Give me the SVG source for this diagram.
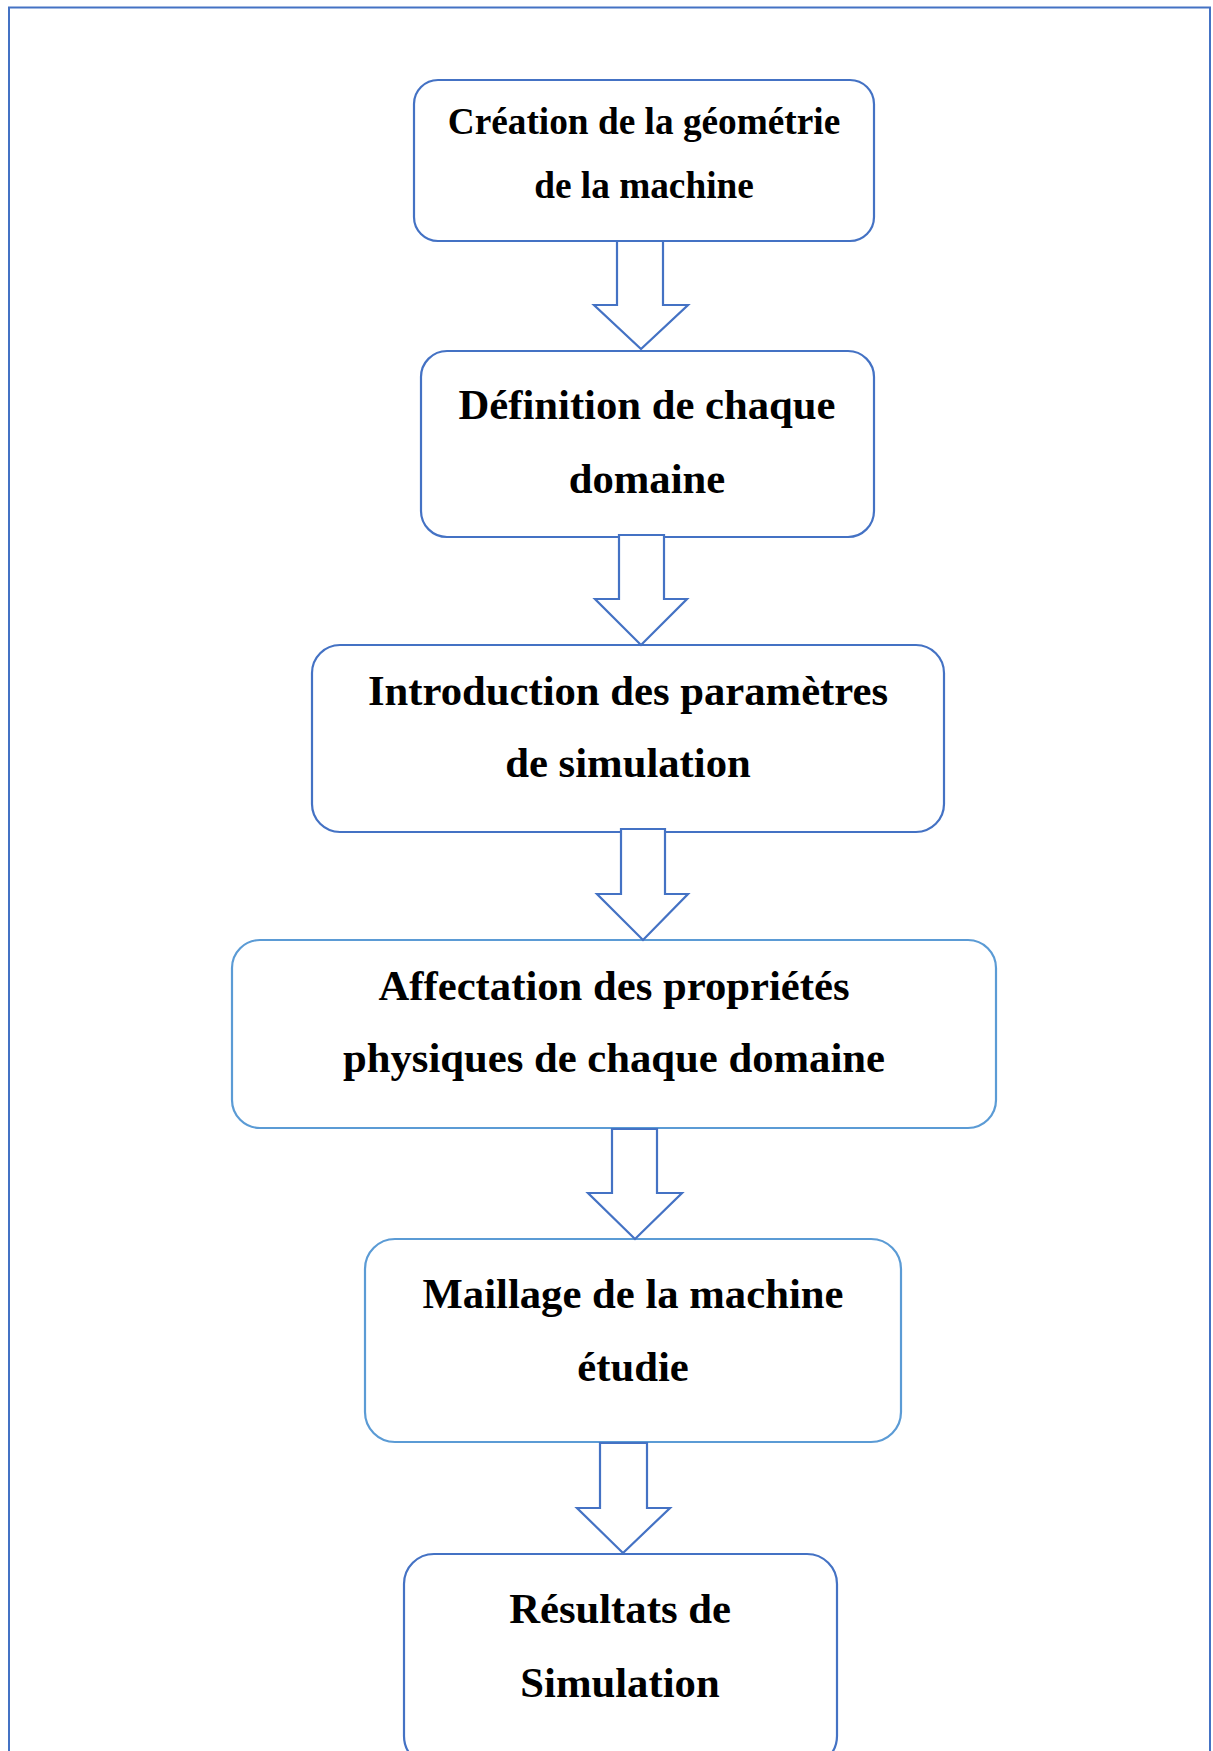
<svg xmlns="http://www.w3.org/2000/svg" width="1213" height="1751" viewBox="0 0 1213 1751">
<style>
.box{fill:#fff;stroke:#4472C4;stroke-width:2.2}
.box2{fill:#fff;stroke:#5B9BD5;stroke-width:2.2}
.arr{fill:#fff;stroke:#4472C4;stroke-width:2.2;stroke-linejoin:miter}
text{font-family:"Liberation Serif","Times New Roman",serif;font-weight:bold;fill:#000;text-anchor:middle}
.s1{font-size:37.3px}
.s2{font-size:42.7px}
</style>
<rect x="0" y="0" width="1213" height="1751" fill="#fff"/>
<path d="M9 1751 V7.5 H1210 V1751" fill="none" stroke="#4472C4" stroke-width="2"/>
<g id="n1"><rect class="box" x="414" y="80" width="460" height="161" rx="24"/>
<text class="s1" x="644" y="134">Création de la géométrie</text>
<text class="s1" x="644" y="198">de la machine</text></g>
<g id="n2"><rect class="box" x="421" y="351" width="453" height="186" rx="26"/>
<text class="s2" x="647" y="419">Définition de chaque</text>
<text class="s2" x="647" y="493">domaine</text></g>
<g id="n3"><rect class="box" x="312" y="645" width="632" height="187" rx="28"/>
<text class="s2" x="628" y="705">Introduction des paramètres</text>
<text class="s2" x="628" y="777">de simulation</text></g>
<g id="n4"><rect class="box2" x="232" y="940" width="764" height="188" rx="28"/>
<text class="s2" x="614" y="1000">Affectation des propriétés</text>
<text class="s2" x="614" y="1072">physiques de chaque domaine</text></g>
<g id="n5"><rect class="box2" x="365" y="1239" width="536" height="203" rx="30"/>
<text class="s2" x="633" y="1308">Maillage de la machine</text>
<text class="s2" x="633" y="1381">étudie</text></g>
<g id="n6"><rect class="box" x="404" y="1554" width="433" height="212" rx="30"/>
<text class="s2" x="620" y="1623">Résultats de</text>
<text class="s2" x="620" y="1697">Simulation</text></g>
<g id="connectors">
<polygon class="arr" points="617,241 663,241 663,305 688,305 641,349 594,305 617,305"/>
<polygon class="arr" points="619,535 664,535 664,599 687,599 641,645 595,599 619,599"/>
<polygon class="arr" points="621,829 665,829 665,894 688,894 643,940 597,894 621,894"/>
<polygon class="arr" points="612,1129 657,1129 657,1193 682,1193 635,1239 588,1193 612,1193"/>
<polygon class="arr" points="600,1443 647,1443 647,1508 670,1508 623,1553 577,1508 600,1508"/>
</g>
</svg>
